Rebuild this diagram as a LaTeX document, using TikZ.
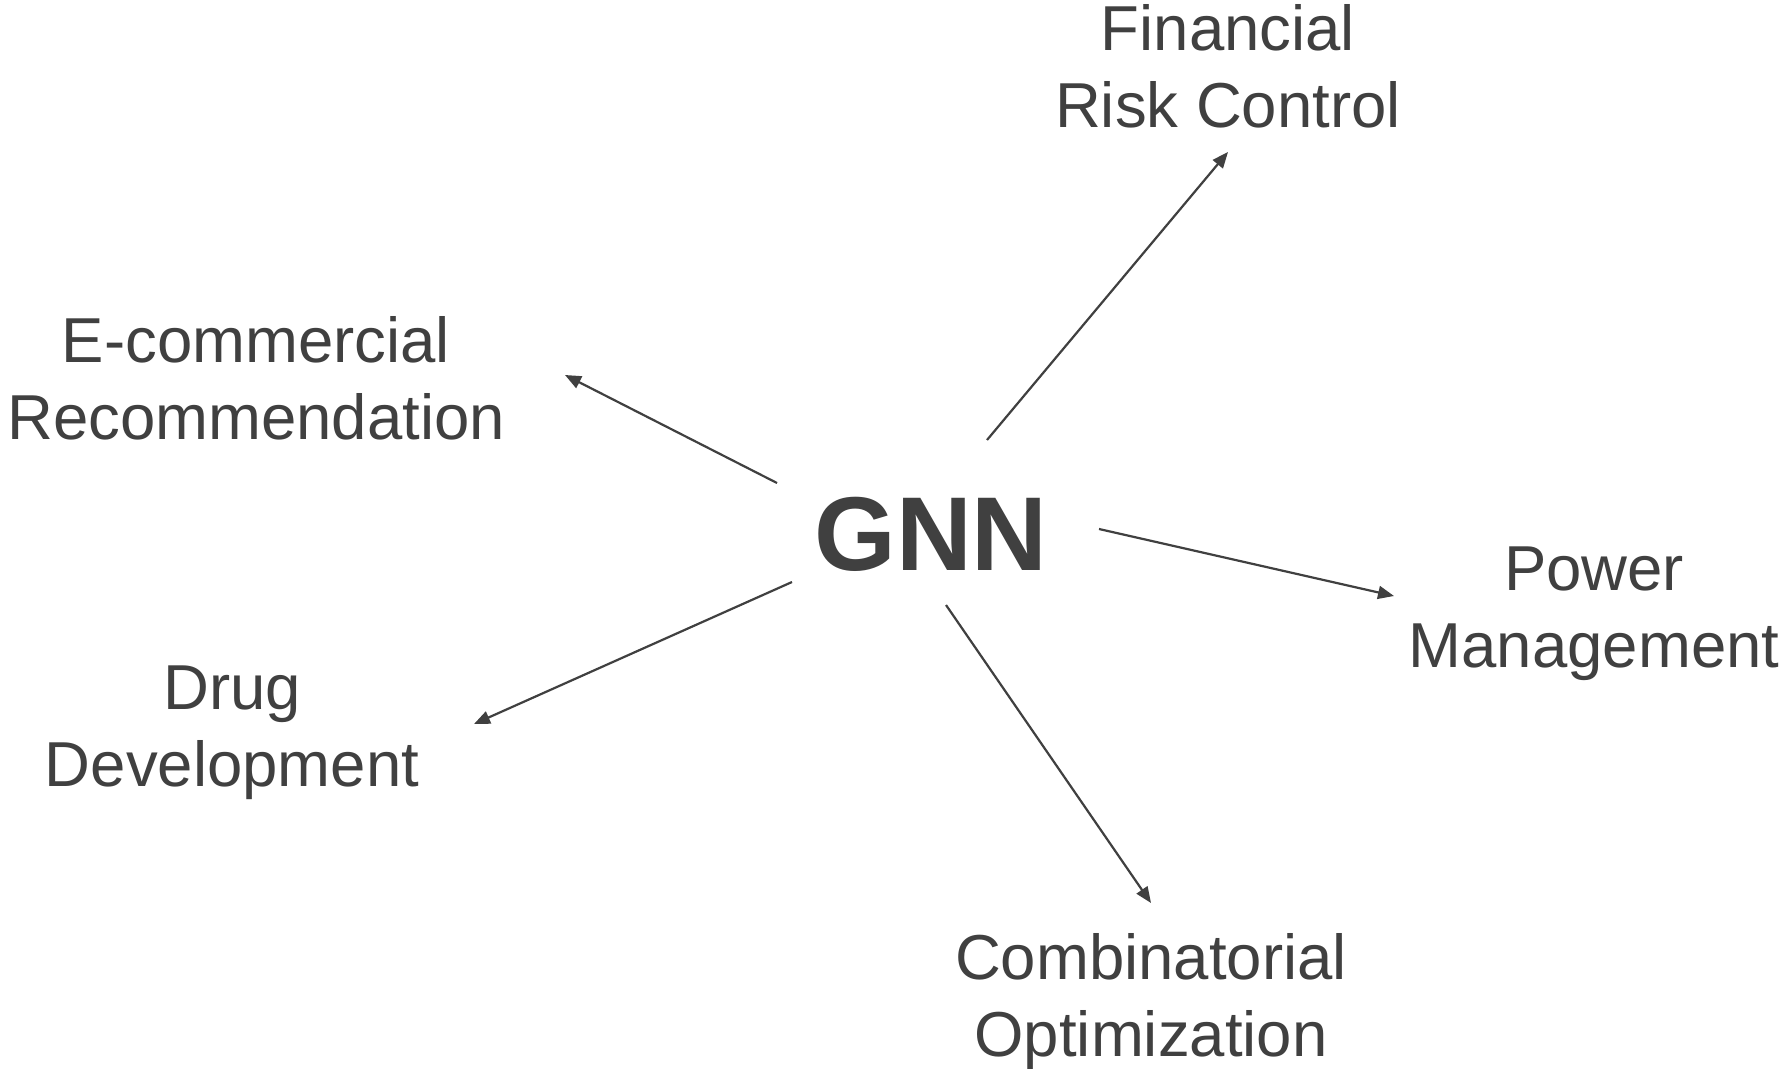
\documentclass[tikz,border=0pt]{standalone}
\usepackage{fontspec}
\setmainfont{Liberation Sans}
\usetikzlibrary{arrows.meta}
\definecolor{ink}{HTML}{404040}
\begin{document}
\begin{tikzpicture}[x=1pt,y=-1pt,
  field/.style={anchor=base,inner sep=0pt,align=center,text=ink,
    font=\fontsize{63.5}{76.5}\selectfont},
  hub/.style={anchor=base,inner sep=0pt,text=ink,
    font=\fontsize{105}{120}\selectfont\bfseries},
  link/.style={draw=ink,line width=2.2pt,
    -{Triangle[length=16pt,width=13pt]}}]
\useasboundingbox[fill=white] (0,0) rectangle (1785,1068);

% centre
\node[hub] (gnn) at (931,570) {GNN};

% application areas (placed by the baseline of their last line)
\node[field] (fin)  at (1228,127)  {Financial\\Risk Control};
\node[field] (ecom) at (256,439)   {E-commercial\\Recommendation};
\node[field] (pow)  at (1594,667)  {Power\\Management};
\node[field] (drug) at (232,786)   {Drug\\Development};
\node[field] (comb) at (1151,1056) {Combinatorial\\Optimization};

% arrow end points
\coordinate (s-ecom) at (777,483);  \coordinate (t-ecom) at (565,375);
\coordinate (s-fin)  at (987,440);  \coordinate (t-fin)  at (1228,152);
\coordinate (s-pow)  at (1099,529); \coordinate (t-pow)  at (1394,596);
\coordinate (s-drug) at (792,582);  \coordinate (t-drug) at (474,724);
\coordinate (s-comb) at (946,605);  \coordinate (t-comb) at (1151,903);

\draw[link] (s-ecom) -- (t-ecom);
\draw[link] (s-fin)  -- (t-fin);
\draw[link] (s-pow)  -- (t-pow);
\draw[link] (s-drug) -- (t-drug);
\draw[link] (s-comb) -- (t-comb);
\end{tikzpicture}
\end{document}
